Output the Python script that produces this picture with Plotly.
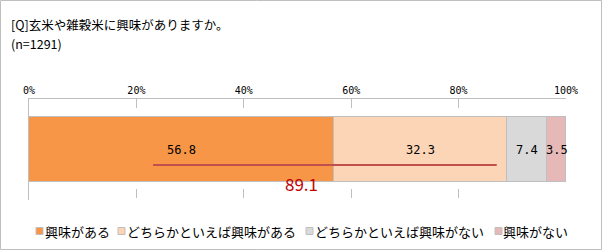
import plotly.graph_objects as go

# ---- data ----
categories = ["興味がある", "どちらかといえば興味がある", "どちらかといえば興味がない", "興味がない"]
values = [56.8, 32.3, 7.4, 3.5]
colors = ["#f79646", "#fbd5b5", "#d9d9d9", "#e6b9b8"]
total_label = "89.1"
total_line_x = [23.1, 87.1]
tick_vals = [0, 20, 40, 60, 80, 100]
tick_text = ["0%", "20%", "40%", "60%", "80%", "100%"]
title_lines = ["[Q]玄米や雑穀米に興味がありますか。", "(n=1291)"]

# ---- layout constants (pixels) ----
W, H = 602, 250
ML, MR, MT, MB = 29, 36, 99, 50
PW, PH = W - ML - MR, H - MT - MB

def px_x(px):
    return (px - ML) / PW

def px_y(py):
    return (H - MB - py) / PH

JP = "Noto Sans CJK JP"
MONO = "DejaVu Sans Mono"
BORDER = "#bfbfbf"

fig = go.Figure()

annotations = []
start = 0.0
for name, v, c in zip(categories, values, colors):
    fig.add_trace(go.Bar(
        x=[v], y=[0], orientation="h", name=name, width=0.65,
        marker=dict(color=c, line=dict(color=BORDER, width=1)),
        showlegend=False, hoverinfo="skip",
    ))
    annotations.append(dict(
        x=start + v / 2, y=0, xref="x", yref="y", text=f"{v:.1f}", showarrow=False,
        font=dict(family=MONO, size=12, color="#000000"), xanchor="center", yanchor="middle",
    ))
    start += v

line_y = -0.153
fig.add_trace(go.Scatter(
    x=total_line_x, y=[line_y, line_y], mode="lines",
    line=dict(color="#c0504d", width=2), showlegend=False, hoverinfo="skip",
))

annotations.append(dict(
    x=50.8, y=-0.335, xref="x", yref="y", text=total_label, showarrow=False,
    font=dict(family=JP, size=17, color="#c00000"), xanchor="center", yanchor="middle",
))
for txt, py in zip(title_lines, [24, 44]):
    annotations.append(dict(
        x=px_x(9), y=px_y(py), xref="paper", yref="paper", text=txt,
        showarrow=False, align="left",
        font=dict(family=JP, size=12.5, color="#000000"), xanchor="left", yanchor="middle",
    ))

legend_text_x = [45, 127, 315, 503]
legend_sq_x = [36, 118, 306, 495]
shapes = []
leg_y = 231
for name, c, tx, sx in zip(categories, colors, legend_text_x, legend_sq_x):
    annotations.append(dict(
        x=px_x(tx), y=px_y(leg_y), xref="paper", yref="paper", text=name, showarrow=False,
        font=dict(family=JP, size=13, color="#000000"), xanchor="left", yanchor="middle",
        xshift=-2,
    ))
    shapes.append(dict(
        type="rect", xref="paper", yref="paper",
        x0=px_x(sx), x1=px_x(sx + 7), y0=px_y(leg_y + 3.5), y1=px_y(leg_y - 3.5),
        fillcolor=c, line=dict(color=BORDER, width=1),
    ))

# outer border
shapes.append(dict(
    type="rect", xref="paper", yref="paper",
    x0=px_x(0.5), x1=px_x(W - 0.5), y0=px_y(H - 0.5), y1=px_y(0.5),
    line=dict(color=BORDER, width=1), fillcolor="rgba(0,0,0,0)",
))

fig.update_layout(
    width=W, height=H,
    margin=dict(l=ML, r=MR, t=MT, b=MB),
    paper_bgcolor="white", plot_bgcolor="white",
    barmode="stack", bargap=0,
    showlegend=False,
    annotations=annotations, shapes=shapes,
    xaxis=dict(
        range=[0, 100], side="top", tickvals=tick_vals, ticktext=tick_text,
        showgrid=True, gridcolor=BORDER, griddash="dash", gridwidth=1,
        showline=True, linecolor=BORDER, linewidth=1, zeroline=False,
        ticks="", tickfont=dict(family=MONO, size=10, color="#000000"),
        fixedrange=True,
    ),
    yaxis=dict(
        range=[-0.5, 0.5], showticklabels=False, showgrid=False, zeroline=False,
        showline=True, linecolor=BORDER, linewidth=1, ticks="", fixedrange=True,
    ),
)

fig.write_html("out.html", config={"displayModeBar": False})
